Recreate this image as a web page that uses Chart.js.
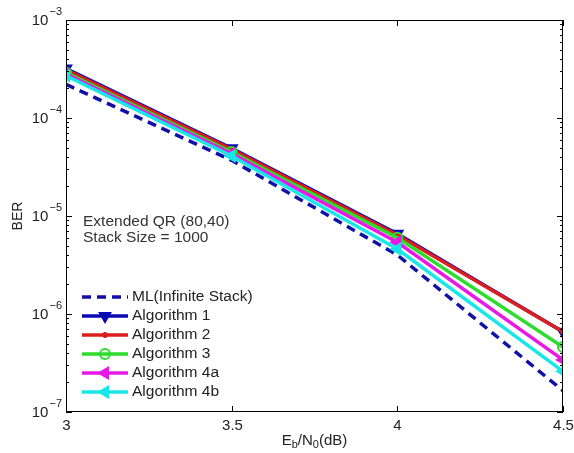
<!DOCTYPE html>
<html>
<head>
<meta charset="utf-8">
<script src="https://cdn.jsdelivr.net/npm/chart.js@4.4.1/dist/chart.umd.min.js"></script>
<style>
  html, body { margin: 0; padding: 0; background: #fff; }
  #wrap { width: 574px; height: 453px; }
</style>
</head>
<body>
<div id="wrap"><canvas id="myChart" width="574" height="453"></canvas></div>
<script>
// Eb/N0 values (dB)
const snr = [3, 3.5, 4, 4.5];
// BER per curve
const mlInfinite = [2.2e-4, 3.7e-5, 4.0e-6, 1.65e-7];
const alg1 = [3.2e-4, 4.9e-5, 6.6e-6, 6.6e-7];
const alg2 = [3.1e-4, 4.8e-5, 6.4e-6, 6.6e-7];
const alg3 = [2.9e-4, 4.5e-5, 6.0e-6, 4.6e-7];
const alg4a = [2.8e-4, 4.3e-5, 5.4e-6, 3.4e-7];
const alg4b = [2.7e-4, 4.1e-5, 4.6e-6, 2.6e-7];
const xTicks = [3, 3.5, 4, 4.5];
const yExponents = [-3, -4, -5, -6, -7];

const FONT = '"Liberation Sans", Arial, sans-serif';

function pts(vals) {
    return snr.map((x, i) => ({ x: x, y: vals[i] }));
}

// axes box, ticks, labels, note text and legend
const matlabAxes = {
    id: 'matlabAxes',
    afterDatasetsDraw(chart) {
        const ctx = chart.ctx;
        const area = chart.chartArea;
        const xs = chart.scales.x;
        const ys = chart.scales.y;
        ctx.save();
        ctx.strokeStyle = '#000';
        ctx.lineWidth = 1;
        ctx.strokeRect(area.left + 0.5, area.top + 0.5, area.right - area.left - 1, area.bottom - area.top - 1);

        ctx.fillStyle = '#222';
        ctx.font = '15px ' + FONT;
        ctx.textAlign = 'center';
        ctx.textBaseline = 'middle';
        ctx.beginPath();
        xTicks.forEach(v => {
            const px = Math.round(xs.getPixelForValue(v)) + 0.5;
            ctx.moveTo(px, area.bottom); ctx.lineTo(px, area.bottom - 6);
            ctx.moveTo(px, area.top); ctx.lineTo(px, area.top + 6);
            ctx.fillText(String(v), px, area.bottom + 14);
        });
        // log ticks (major + minor), inward on both sides
        for (let e = -7; e <= -3; e++) {
            for (let m = 1; m <= 9; m++) {
                const v = m * Math.pow(10, e);
                if (v > 1e-3 * 1.0001) break;
                const py = Math.round(ys.getPixelForValue(v)) + 0.5;
                const len = m === 1 ? 6 : 3;
                ctx.moveTo(area.left, py); ctx.lineTo(area.left + len, py);
                ctx.moveTo(area.right, py); ctx.lineTo(area.right - len, py);
            }
        }
        ctx.stroke();

        yExponents.forEach(e => {
            const py = ys.getPixelForValue(Math.pow(10, e));
            ctx.textAlign = 'right';
            const sup = '\u2212' + (-e);
            ctx.font = '11px ' + FONT;
            const sw = ctx.measureText(sup).width;
            ctx.fillText(sup, area.left - 4, py - 8);
            ctx.font = '15px ' + FONT;
            ctx.fillText('10', area.left - 5 - sw, py + 1);
        });

        // axis titles
        ctx.textAlign = 'left';
        const cx = (area.left + area.right) / 2;
        const parts = [['E', 15, 0], ['b', 11, 4], ['/N', 15, 0], ['0', 11, 4], ['(dB)', 15, 0]];
        let tw = 0;
        parts.forEach(p => { ctx.font = p[1] + 'px ' + FONT; tw += ctx.measureText(p[0]).width; });
        let tx = cx - tw / 2;
        parts.forEach(p => {
            ctx.font = p[1] + 'px ' + FONT;
            ctx.fillText(p[0], tx, area.bottom + 29 + p[2]);
            tx += ctx.measureText(p[0]).width;
        });
        ctx.save();
        ctx.translate(18, (area.top + area.bottom) / 2);
        ctx.rotate(-Math.PI / 2);
        ctx.textAlign = 'center';
        ctx.font = '14px ' + FONT;
        ctx.fillText('BER', 0, 0);
        ctx.restore();

        // note
        ctx.font = '15.5px ' + FONT;
        ctx.fillStyle = '#333';
        ctx.textAlign = 'left';
        ctx.fillText('Extended QR (80,40)', area.left + 17, 222);
        ctx.fillText('Stack Size = 1000', area.left + 17, 238);

        // legend
        const lx0 = area.left + 16, lx1 = area.left + 62;
        let ly = 297;
        chart.data.datasets.forEach(ds => {
            ctx.strokeStyle = ds.borderColor;
            ctx.lineWidth = ds.borderWidth;
            ctx.setLineDash(ds.borderDash || []);
            ctx.beginPath();
            ctx.moveTo(lx0, ly); ctx.lineTo(lx1, ly);
            ctx.stroke();
            ctx.setLineDash([]);
            if (ds.pointStyle && ds.pointRadius > 0) {
                ctx.fillStyle = ds.pointBackgroundColor;
                ctx.strokeStyle = ds.pointBorderColor;
                ctx.lineWidth = ds.pointBorderWidth;
                Chart.helpers.drawPoint(ctx, {
                    pointStyle: ds.pointStyle,
                    rotation: ds.pointRotation || 0,
                    radius: ds.pointRadius,
                    borderWidth: ds.pointBorderWidth
                }, (lx0 + lx1) / 2, ly);
            }
            ctx.fillStyle = '#222';
            ctx.font = '15.5px ' + FONT;
            ctx.fillText(ds.label, lx1 + 4, ly);
            ly += 19;
        });
        ctx.restore();
    }
};

function series(label, vals, color, style, rot, radius, fill, order, dash) {
    return {
        label: label,
        data: pts(vals),
        borderColor: color,
        backgroundColor: color,
        borderWidth: 3.5,
        borderDash: dash || [],
        pointStyle: style || false,
        pointRotation: rot || 0,
        pointRadius: radius || 0,
        pointBorderWidth: 2,
        pointBackgroundColor: fill,
        pointBorderColor: color,
        tension: 0,
        order: order
    };
}

const ctx = document.getElementById('myChart').getContext('2d');
const myChart = new Chart(ctx, {
    type: 'line',
    data: {
        datasets: [
            series('ML(Infinite Stack)', mlInfinite, '#1010a8', false, 0, 0, '#1010a8', 5, [9, 6]),
            series('Algorithm 1', alg1, '#0a0ab4', 'triangle', 180, 6, '#0a0ab4', 4),
            series('Algorithm 2', alg2, '#dd1e1e', 'star', 0, 3, '#dd1e1e', 3),
            series('Algorithm 3', alg3, '#2ddc2d', 'circle', 0, 5, 'rgba(0,0,0,0)', 2),
            series('Algorithm 4a', alg4a, '#e619e6', 'triangle', 270, 6, '#e619e6', 1),
            series('Algorithm 4b', alg4b, '#19e6e6', 'triangle', 270, 6, '#19e6e6', 0)
        ]
    },
    options: {
        responsive: false,
        animation: false,
        layout: { padding: { left: 66, right: 11, top: 20, bottom: 41 } },
        plugins: { legend: { display: false }, tooltip: { enabled: false } },
        scales: {
            x: { type: 'linear', min: 3, max: 4.5, display: false },
            y: { type: 'logarithmic', min: 1e-7, max: 1e-3, display: false }
        }
    },
    plugins: [matlabAxes]
});
</script>
</body>
</html>
